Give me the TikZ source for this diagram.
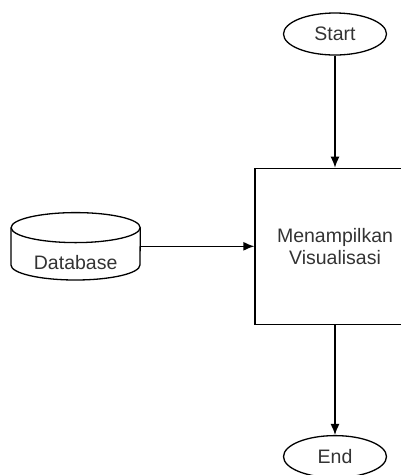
\documentclass[tikz,border=0pt]{standalone}
\usepackage{fontspec}
\setmainfont{Liberation Sans}
\usetikzlibrary{arrows.meta, positioning, calc, shapes.geometric}
\tikzset{
    >={Latex[length=11pt, width=9pt]},
    flow/.style={black, line width=1.3pt},
    txt/.style={font=\fontsize{19.5}{22}\selectfont, text=black!80},
    terminal/.style={ellipse, draw, flow, txt, minimum width=103pt, minimum height=42pt, inner sep=0pt},
    process/.style={rectangle, draw, flow, txt, minimum width=160pt, minimum height=156pt, align=center},
    dbshape/.style={minimum width=129pt, minimum height=67pt, inner sep=0pt},
}
\begin{document}
\begin{tikzpicture}[x=1pt, y=-1pt]
    \clip (0,0) rectangle (401,475);
    \node[terminal] (start) at (335,34) {Start};
    \node[process, below=112pt of start] (show) {Menampilkan\\Visualisasi};
    \node[terminal, below=110pt of show] (end) {End};
    \node[dbshape, left=114pt of show] (db) {};
    % cylinder of the database
    \draw[flow] ($(db.north)+(0,15)$) ellipse[x radius=64.5pt, y radius=15pt];
    \draw[flow] ($(db.north west)+(0,15)$) -- ($(db.south west)+(0,-15)$)
        arc[start angle=180, end angle=360, x radius=64.5pt, y radius=15pt]
        -- ($(db.north east)+(0,15)$);
    \node[txt] (dblabel) at ($(db.south)+(0,-17)$) {Database};
    \draw[->, flow] (start) -- (show);
    \draw[->, flow] (show) -- (end);
    \draw[->, flow] (db.east) -- (show.west);
\end{tikzpicture}
\end{document}
